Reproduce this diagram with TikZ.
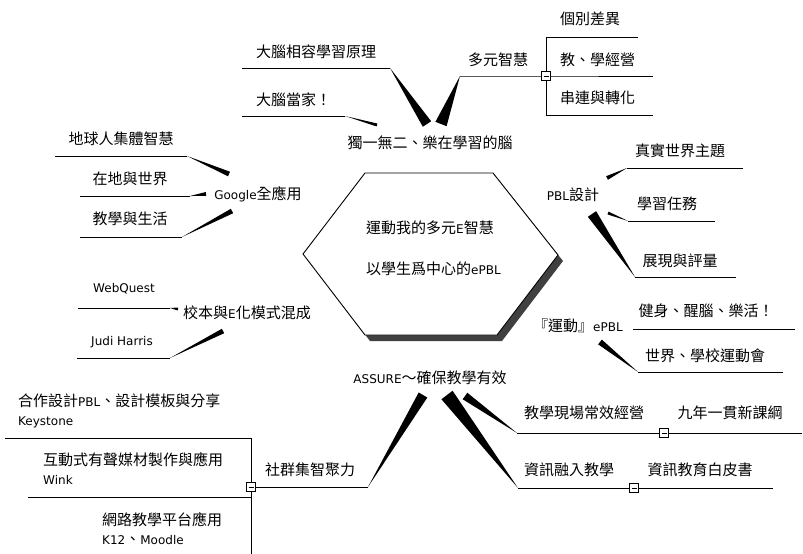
\documentclass[tikz,border=0pt]{standalone}
\usepackage{fontspec}
\setmainfont{Noto Sans CJK TC}
\newfontfamily\latfont{DejaVu Sans}
\newcommand{\entxt}[1]{{\latfont\fontsize{12}{14}\selectfont #1}}
\definecolor{shadowgray}{RGB}{64,64,64}
\usetikzlibrary{calc}

\begin{document}
\begin{tikzpicture}[x=1pt, y=-1pt,
  topic/.style={inner sep=0pt, font=\fontsize{15}{19}\selectfont},
  twoline/.style={topic, align=left, anchor=west},
  collapse/.style={draw, fill=white, line width=0.8pt, minimum size=9pt,
    inner sep=0pt, path picture={\draw[line width=0.8pt]
      ([xshift=2pt]path picture bounding box.west) --
      ([xshift=-2pt]path picture bounding box.east);}},
  branch/.style={line width=0.9pt},
  taper/.style={to path={-- ($(\tikztostart)!#1!90:(\tikztotarget)$)
    -- (\tikztotarget) -- ($(\tikztostart)!#1!-90:(\tikztotarget)$) -- cycle}},
]
\useasboundingbox (0,0) rectangle (803,554);

% central hexagon
\fill[shadowgray, shift={(5,6)}] (303,254) -- (365,173) -- (493,173)
  -- (558,255) -- (497,335) -- (365,335) -- cycle;
\draw[fill=white, line width=0.9pt] (303,254) -- (365,173) -- (493,173)
  -- (558,255) -- (497,335) -- (365,335) -- cycle;
\node[twoline, font=\fontsize{15}{41}\selectfont] (core) at (366,248)
  {運動我的多元\entxt{E}智慧\\以學生爲中心的\entxt{ePBL}};

% main topics
\node[topic] (brain) at (430,143) {獨一無二、樂在學習的腦};
\node[topic] (pbl) at (573,195) {\entxt{PBL}設計};
\node[topic] (sport) at (578,326) {『運動』\entxt{ePBL}};
\node[topic] (assure) at (430,378) {\entxt{ASSURE}～確保教學有效};
\node[topic] (google) at (258,194) {\entxt{Google}全應用};
\node[topic] (blend) at (247,313) {校本與\entxt{E}化模式混成};
\node[topic] (community) at (310,470) {社群集智聚力};

% subtopics
\node[topic] (compat) at (316,52) {大腦相容學習原理};
\node[topic, anchor=west] (boss) at (256,100) {大腦當家！};
\node[topic] (multi) at (498,60) {多元智慧};
\node[topic, anchor=west] (diff) at (560,19) {個別差異};
\node[topic, anchor=west] (teach) at (560,60) {教、學經營};
\node[topic, anchor=west] (chain) at (560,98) {串連與轉化};
\node[topic] (real) at (680,151) {真實世界主題};
\node[topic] (task) at (667,204) {學習任務};
\node[topic] (show) at (680,261) {展現與評量};
\node[topic] (fit) at (706,311) {健身、醒腦、樂活！};
\node[topic] (games) at (705,356) {世界、學校運動會};
\node[topic] (field) at (584,413) {教學現場常效經營};
\node[topic] (nine) at (730,413) {九年一貫新課綱};
\node[topic] (ict) at (569,470) {資訊融入教學};
\node[topic] (paper) at (700,470) {資訊教育白皮書};
\node[topic] (earth) at (121,139) {地球人集體智慧};
\node[topic] (local) at (130,179) {在地與世界};
\node[topic] (life) at (130,219) {教學與生活};
\node[topic] (webq) at (124,289) {\entxt{WebQuest}};
\node[topic] (judi) at (122,342) {\entxt{Judi Harris}};
\node[twoline] (coop) at (18,411) {合作設計\entxt{PBL}、設計模板與分享\\\entxt{Keystone}};
\node[twoline] (inter) at (43,469) {互動式有聲媒材製作與應用\\\entxt{Wink}};
\node[twoline] (lms) at (102,529) {網路教學平台應用\\\entxt{K12}、\entxt{Moodle}};

% joints
\coordinate (brain-a) at (427,124);
\coordinate (brain-b) at (441,124);
\coordinate (brain-c) at (377,125);
\coordinate (compat-j) at (390,68);   \coordinate (compat-e) at (242,68);
\coordinate (boss-j) at (345,116);    \coordinate (boss-e) at (242,116);
\coordinate (multi-j) at (460,76);    \coordinate (multi-c) at (546,76);
\coordinate (diff-s) at (546,37);     \coordinate (diff-e) at (638,37);
\coordinate (teach-e) at (653,76);
\coordinate (chain-s) at (546,115);   \coordinate (chain-e) at (653,115);

\coordinate (pbl-a) at (607,178);
\coordinate (pbl-b) at (608,213);
\coordinate (pbl-c) at (592,214);
\coordinate (real-j) at (627,168);    \coordinate (real-e) at (743,168);
\coordinate (task-j) at (628,221);    \coordinate (task-e) at (715,221);
\coordinate (show-j) at (635,277);    \coordinate (show-e) at (736,277);

\coordinate (sport-a) at (633,329);   \coordinate (fit-e) at (795,329);
\coordinate (sport-b) at (600,342);
\coordinate (games-j) at (638,372);   \coordinate (games-e) at (783,372);

\coordinate (assure-a) at (423,395);
\coordinate (assure-b) at (447,395);
\coordinate (assure-c) at (465,396);
\coordinate (comm-j) at (368,487);    \coordinate (comm-c) at (251,487);
\coordinate (ict-j) at (518,488);     \coordinate (ict-c) at (634,488);
\coordinate (ict-e) at (773,488);
\coordinate (field-j) at (517,433);   \coordinate (field-c) at (664,433);
\coordinate (field-e) at (802,433);
\coordinate (coop-s) at (251,438);    \coordinate (coop-e) at (5,438);
\coordinate (inter-s) at (251,497);   \coordinate (inter-e) at (28,497);
\coordinate (lms-s) at (251,554);

\coordinate (google-a) at (229,174);
\coordinate (google-b) at (206,194);
\coordinate (google-c) at (232,211);
\coordinate (earth-j) at (187,156);   \coordinate (earth-e) at (55,156);
\coordinate (local-j) at (190,196);   \coordinate (local-e) at (80,196);
\coordinate (life-j) at (182,237);    \coordinate (life-e) at (80,237);
\coordinate (blend-a) at (178,309);
\coordinate (blend-b) at (223,331);
\coordinate (webq-j) at (170,308);    \coordinate (webq-e) at (78,308);
\coordinate (judi-j) at (170,358);    \coordinate (judi-e) at (77,358);

% connectors
\fill (brain-a) to[taper=5pt] (compat-j);
\fill (brain-b) to[taper=6pt] (multi-j);
\fill (brain-c) to[taper=1.5pt] (boss-j);
\draw[branch] (compat-j) -- (compat-e);
\draw[branch] (boss-j) -- (boss-e);
\draw[branch] (multi-j) -- (multi-c) -- (teach-e);
\draw[branch] (diff-e) -- (diff-s) -- (chain-s) -- (chain-e);

\fill (pbl-a) to[taper=2pt] (real-j);
\fill (pbl-b) to[taper=1.5pt] (task-j);
\fill (pbl-c) to[taper=5pt] (show-j);
\draw[branch] (real-j) -- (real-e);
\draw[branch] (task-j) -- (task-e);
\draw[branch] (show-j) -- (show-e);

\draw[branch] (sport-a) -- (fit-e);
\fill (sport-b) to[taper=3pt] (games-j);
\draw[branch] (games-j) -- (games-e);

\fill (assure-a) to[taper=5pt] (comm-j);
\fill (assure-b) to[taper=7pt] (ict-j);
\fill (assure-c) to[taper=4pt] (field-j);
\draw[branch] (comm-j) -- (comm-c);
\draw[branch] (ict-j) -- (ict-e);
\draw[branch] (field-j) -- (field-e);
\draw[branch] (coop-e) -- (coop-s) -- (lms-s);
\draw[branch] (inter-e) -- (inter-s);

\fill (google-a) to[taper=2.5pt] (earth-j);
\fill (google-b) to[taper=2pt] (local-j);
\fill (google-c) to[taper=2.5pt] (life-j);
\draw[branch] (earth-j) -- (earth-e);
\draw[branch] (local-j) -- (local-e);
\draw[branch] (life-j) -- (life-e);
\fill (blend-a) to[taper=1.5pt] (webq-j);
\fill (blend-b) to[taper=2.5pt] (judi-j);
\draw[branch] (webq-j) -- (webq-e);
\draw[branch] (judi-j) -- (judi-e);

% collapse boxes
\node[collapse] (multi-box) at (multi-c) {};
\node[collapse] (comm-box) at (comm-c) {};
\node[collapse] (field-box) at (field-c) {};
\node[collapse] (ict-box) at (ict-c) {};
\end{tikzpicture}
\end{document}
